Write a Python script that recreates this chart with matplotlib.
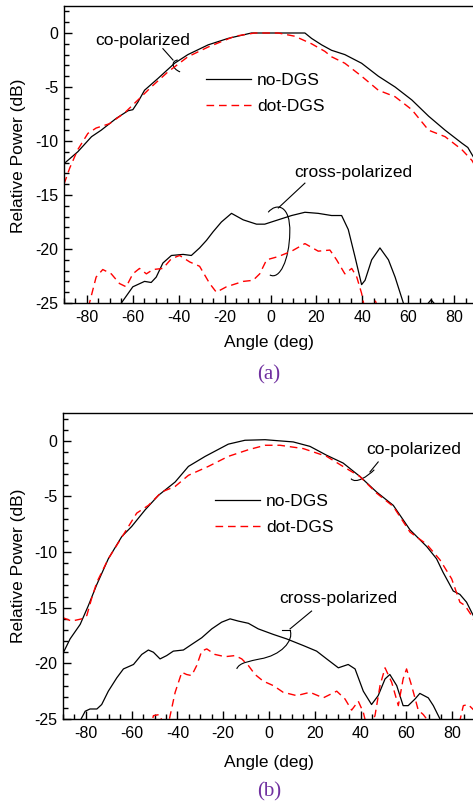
import matplotlib
matplotlib.use("Agg")
import matplotlib.pyplot as plt
from matplotlib.path import Path
from matplotlib.patches import PathPatch
from matplotlib.ticker import MultipleLocator

plt.rcParams['font.family'] = ['Liberation Sans', 'DejaVu Sans']
plt.rcParams['axes.unicode_minus'] = False

# ---------------- data: panel (a) ----------------
a_co_no_ang = [-90, -84, -78, -73.8, -67.2, -62.1, -60, -57.8, -54.9, -49, -41.8, -36, -27.2, -18.5, -8.3, 0.4,
               10.6, 15, 17.9, 22.3, 26.6, 32.4, 39.7, 47, 54.3, 61.6, 68.9, 76.1, 83.4, 86, 88.5, 90]
a_co_no_db = [-12.1, -11.0, -9.6, -9.0, -7.9, -7.2, -7.1, -6.4, -5.3, -4.2, -2.8, -2.0, -1.1, -0.5, 0.0, 0.0,
              0.0, 0.0, -0.5, -1.1, -1.6, -2.0, -2.8, -4.0, -5.0, -6.2, -7.7, -9.0, -10.2, -10.6, -11.5, -12.0]

a_co_dot_ang = [-90, -87.5, -84, -79.6, -76, -70.2, -63.6, -56.3, -52, -44.7, -36, -27.2, -15.6, -6.9, 3.4,
                10.6, 17.9, 23.7, 26.6, 32.4, 39.7, 47, 54.3, 61.6, 68.9, 76.1, 83.4, 87.8, 90]
a_co_dot_db = [-14.0, -12.5, -10.8, -9.3, -8.8, -8.4, -7.4, -5.9, -5.0, -3.6, -2.2, -1.3, -0.3, 0.0, 0.0,
               -0.3, -1.0, -1.7, -2.2, -2.8, -4.0, -5.3, -5.9, -7.1, -9.0, -9.6, -10.8, -11.8, -12.6]

a_x_no_ang = [-67, -65, -60, -54.9, -52, -49.8, -46.9, -43.2, -38.1, -34.5, -30.9, -27.9, -25, -21.4, -17,
              -11.9, -6.1, -2.5, 0.4, 4.8, 9.2, 15, 20.8, 26.6, 31, 33.9, 36.8, 39.7, 41.2, 44.1, 47.7,
              51.4, 54.3, 57.9, 60, 63, 66, 68, 70, 72, 74]
a_x_no_db = [-26.5, -25.0, -23.5, -23.0, -23.1, -22.6, -21.3, -20.6, -20.5, -20.6, -19.9, -19.2, -18.4, -17.5, -16.7,
             -17.3, -17.7, -17.7, -17.5, -17.2, -16.9, -16.6, -16.7, -16.9, -16.9, -18.2, -20.7, -23.3, -22.9, -21.0, -19.9,
             -21.0, -22.6, -25.0, -26.5, -27.0, -26.0, -25.2, -24.7, -25.2, -26.5]

a_x_dot_ang = [-81, -78.9, -76, -73.1, -69.4, -65.8, -62.9, -60, -57.1, -54.1, -51.2, -46.9, -43.2, -39.6,
               -35.2, -30.9, -26.5, -23.6, -19.2, -11.9, -7.6, -4.7, -1.7, 3.4, 9.2, 15, 20.8, 25.9, 28.8,
               32.4, 35.4, 37.6, 39.7, 41, 43, 45.5, 47, 49]
a_x_dot_db = [-26.5, -25.0, -22.6, -21.9, -22.3, -23.2, -23.5, -22.3, -21.8, -22.3, -21.9, -21.8, -20.9, -20.6,
              -21.2, -21.6, -23.2, -24.0, -23.5, -23.0, -22.9, -22.3, -21.0, -20.7, -20.2, -19.5, -20.2, -20.1, -21.0,
              -22.3, -21.8, -22.6, -24.1, -25.5, -25.6, -24.7, -25.5, -27.0]

# ---------------- data: panel (b) ----------------
b_co_no_ang = [-90, -86.9, -82.5, -78.9, -75.2, -70.2, -64.3, -60, -54.1, -48.3, -41, -35.2, -27.9, -17.8, -10.5,
               -1.7, 10.6, 17.9, 25.2, 32.4, 39.7, 47, 54.3, 61.6, 68.9, 73.2, 76, 80.5, 83.4, 86.3, 89, 90]
b_co_no_db = [-19.1, -17.8, -16.5, -14.8, -12.9, -10.6, -8.6, -7.7, -6.2, -4.9, -3.7, -2.3, -1.4, -0.3, 0.05,
              0.1, -0.1, -0.5, -1.3, -2.0, -3.2, -4.6, -5.8, -8.0, -9.5, -10.6, -11.8, -13.5, -13.8, -14.5, -15.6, -16.0]

b_co_dot_ang = [-90, -86.2, -81.8, -79.6, -77.4, -75.2, -70.2, -62.9, -57.8, -52.7, -46.9, -41, -35.2, -26.5,
                -17.8, -9, -1.7, 4.8, 15, 25.2, 33.9, 39.7, 47, 54.3, 61.6, 68.9, 74.7, 79.8, 83.4, 85.6, 88.5, 90]
b_co_dot_db = [-15.9, -16.2, -16.0, -15.7, -14.1, -12.7, -10.6, -8.2, -6.5, -5.8, -4.6, -4.1, -3.1, -2.3,
               -1.4, -0.8, -0.4, -0.4, -0.7, -1.4, -2.5, -3.2, -4.7, -5.9, -8.2, -9.3, -10.7, -12.4, -14.5, -14.8, -15.7, -16.3]

b_x_no_ang = [-84, -82.1, -80.3, -78.2, -75.2, -73.1, -70.2, -66.5, -63.6, -59.2, -55.6, -52.7, -50.5, -47.6,
              -44.7, -41.8, -37.4, -33.8, -29.4, -25, -20.7, -17, -13.4, -9, -4.7, 1.9, 7.7, 15, 20.8, 25.2,
              30.3, 34.6, 37.6, 41.2, 44.8, 47.7, 50.7, 52.8, 55.8, 58.6, 60.8, 63.8, 65.9, 69.6, 71.8, 74.7, 76]
b_x_no_db = [-26.0, -25.0, -24.3, -24.1, -24.1, -23.7, -22.5, -21.3, -20.5, -20.1, -19.2, -18.8, -19.0, -19.6,
             -19.3, -18.9, -18.8, -18.3, -17.7, -16.9, -16.3, -16.0, -16.2, -16.4, -16.9, -17.4, -17.8, -18.4, -18.9, -19.6,
             -20.4, -20.1, -20.5, -22.5, -23.7, -22.9, -21.4, -21.0, -22.0, -23.8, -23.8, -23.2, -22.7, -23.1, -23.8, -25.0, -26.0]

b_x_dot_ang = [-52, -50.5, -47.9, -46, -44.5, -43.2, -41, -38.1, -36, -33.8, -31.6, -29.4, -27.2, -23.6, -19.2,
               -14.8, -11.9, -9, -6.1, -2.5, 1.9, 6.2, 12.1, 17.9, 23.7, 29.6, 33.2, 36.1, 39, 41.2, 42.5, 44.5,
               46.3, 48.5, 50.7, 53.6, 56.5, 58.6, 60.1, 62.3, 65.2, 67.4, 70, 73, 80, 83, 84.9, 87, 90]
b_x_dot_db = [-26.0, -24.7, -24.6, -25.5, -26.0, -24.7, -22.6, -20.8, -21.0, -21.1, -20.2, -18.9, -18.7, -19.2, -19.4,
              -19.3, -19.6, -20.2, -21.0, -21.6, -22.0, -22.6, -22.9, -22.6, -23.1, -22.5, -23.2, -24.2, -23.4, -24.4, -25.5, -25.5,
              -24.7, -22.0, -20.4, -21.7, -23.8, -21.4, -20.5, -22.0, -24.2, -24.6, -25.3, -26.0, -27.0, -25.5, -23.8, -23.7, -24.3]

x_ticks = [-80, -60, -40, -20, 0, 20, 40, 60, 80]
y_ticks = [0, -5, -10, -15, -20, -25]
legend_labels = ["no-DGS", "dot-DGS"]

W, H = 473, 806
fig = plt.figure(figsize=(W / 100, H / 100), dpi=100)

def fx(px):
    return px / W

def fy(py):
    return 1 - py / H

RED = '#ff0000'
DASH = (0, (5.5, 3.5))
FS = 12.5


def setup(ax):
    ax.set_xlim(-90, 90)
    ax.set_ylim(-25, 2.5)
    ax.set_xticks(x_ticks)
    ax.set_yticks(y_ticks)
    ax.xaxis.set_minor_locator(MultipleLocator(5))
    ax.yaxis.set_minor_locator(MultipleLocator(1))
    ax.tick_params(which='both', direction='in', top=False, right=False, width=1.0, labelsize=11.5)
    ax.tick_params(which='major', length=6)
    ax.tick_params(which='minor', length=3.5)
    ax.tick_params(axis='x', pad=5)
    ax.tick_params(axis='y', pad=4)
    for s in ['left', 'bottom', 'top']:
        ax.spines[s].set_linewidth(1.0)
    ax.spines['right'].set_visible(False)


def curve_patch(ax, verts, codes):
    p = PathPatch(Path(verts, codes), facecolor='none', edgecolor='black', lw=0.8)
    ax.add_patch(p)


M, L, C = Path.MOVETO, Path.LINETO, Path.CURVE4

# ---------- panel (a) ----------
ax1 = fig.add_axes([fx(64), fy(303), (477 - 64) / W, (303 - 6) / H])
setup(ax1)
l1, = ax1.plot(a_co_no_ang, a_co_no_db, color='black', lw=0.9)
l2, = ax1.plot(a_co_dot_ang, a_co_dot_db, color=RED, lw=1.0, linestyle=DASH)
ax1.plot(a_x_no_ang, a_x_no_db, color='black', lw=0.9)
ax1.plot(a_x_dot_ang, a_x_dot_db, color=RED, lw=1.0, linestyle=DASH)
ax1.legend([l1, l2], legend_labels, loc='upper left', bbox_to_anchor=(0.345, 0.775),
           frameon=False, fontsize=FS, handlelength=2.55, handletextpad=0.35, labelspacing=0.62,
           borderpad=0, borderaxespad=0)

ax1.text(-55.9, -0.65, "co-polarized", fontsize=FS, ha='center', va='center')
ax1.plot([-46.9, -42.5], [-1.45, -2.5], color='black', lw=0.8)
curve_patch(ax1, [(-40.4, -2.5), (-43.5, -2.6), (-43.0, -3.3), (-39.4, -3.6)], [M, C, C, C])
ax1.text(36.2, -12.9, "cross-polarized", fontsize=FS, ha='center', va='center')
ax1.plot([3.4, 15.0], [-16.2, -13.9], color='black', lw=0.8)
curve_patch(ax1, [(-1.0, -16.6), (2.5, -15.7), (8.8, -15.9), (8.4, -18.5),
                  (8.2, -21.0), (4.0, -22.9), (-0.3, -22.4)], [M, C, C, C, C, C, C])

fig.text(fx(269), fy(343), "Angle (deg)", fontsize=FS, ha='center', va='center')
fig.text(fx(19), fy(156), "Relative Power (dB)", fontsize=FS, ha='center', va='center', rotation=90)
fig.text(fx(269), fy(375), "(a)", fontsize=15, ha='center', va='center', color='#7030a0',
         family=['Liberation Serif', 'DejaVu Serif'])

# ---------- panel (b) ----------
ax2 = fig.add_axes([fx(63), fy(719), (475 - 63) / W, (719 - 413) / H])
setup(ax2)
m1, = ax2.plot(b_co_no_ang, b_co_no_db, color='black', lw=0.9)
m2, = ax2.plot(b_co_dot_ang, b_co_dot_db, color=RED, lw=1.0, linestyle=DASH)
ax2.plot(b_x_no_ang, b_x_no_db, color='black', lw=0.9)
ax2.plot(b_x_dot_ang, b_x_dot_db, color=RED, lw=1.0, linestyle=DASH)
ax2.legend([m1, m2], legend_labels, loc='upper left', bbox_to_anchor=(0.37, 0.735),
           frameon=False, fontsize=FS, handlelength=2.55, handletextpad=0.35, labelspacing=0.62,
           borderpad=0, borderaxespad=0)

ax2.text(63.3, -0.8, "co-polarized", fontsize=FS, ha='center', va='center')
ax2.plot([47.7, 44.1], [-1.9, -2.8], color='black', lw=0.8)
curve_patch(ax2, [(46.0, -2.6), (43.0, -3.2), (38.0, -3.9), (35.8, -3.4)], [M, C, C, C])
ax2.text(30.1, -14.2, "cross-polarized", fontsize=FS, ha='center', va='center')
ax2.plot([18.6, 9.2], [-15.3, -16.9], color='black', lw=0.8)
ax2.plot([5.5, 9.2], [-17.0, -17.0], color='black', lw=0.8)
curve_patch(ax2, [(9.2, -17.0), (11.0, -18.0), (5.0, -19.3), (-3.9, -19.6),
                  (-8.0, -19.8), (-13.0, -19.9), (-14.1, -20.5)], [M, C, C, C, C, C, C])

fig.text(fx(269), fy(762), "Angle (deg)", fontsize=FS, ha='center', va='center')
fig.text(fx(19), fy(566), "Relative Power (dB)", fontsize=FS, ha='center', va='center', rotation=90)
fig.text(fx(269), fy(792), "(b)", fontsize=15, ha='center', va='center', color='#7030a0',
         family=['Liberation Serif', 'DejaVu Serif'])

fig.savefig("out.png", dpi=100)
